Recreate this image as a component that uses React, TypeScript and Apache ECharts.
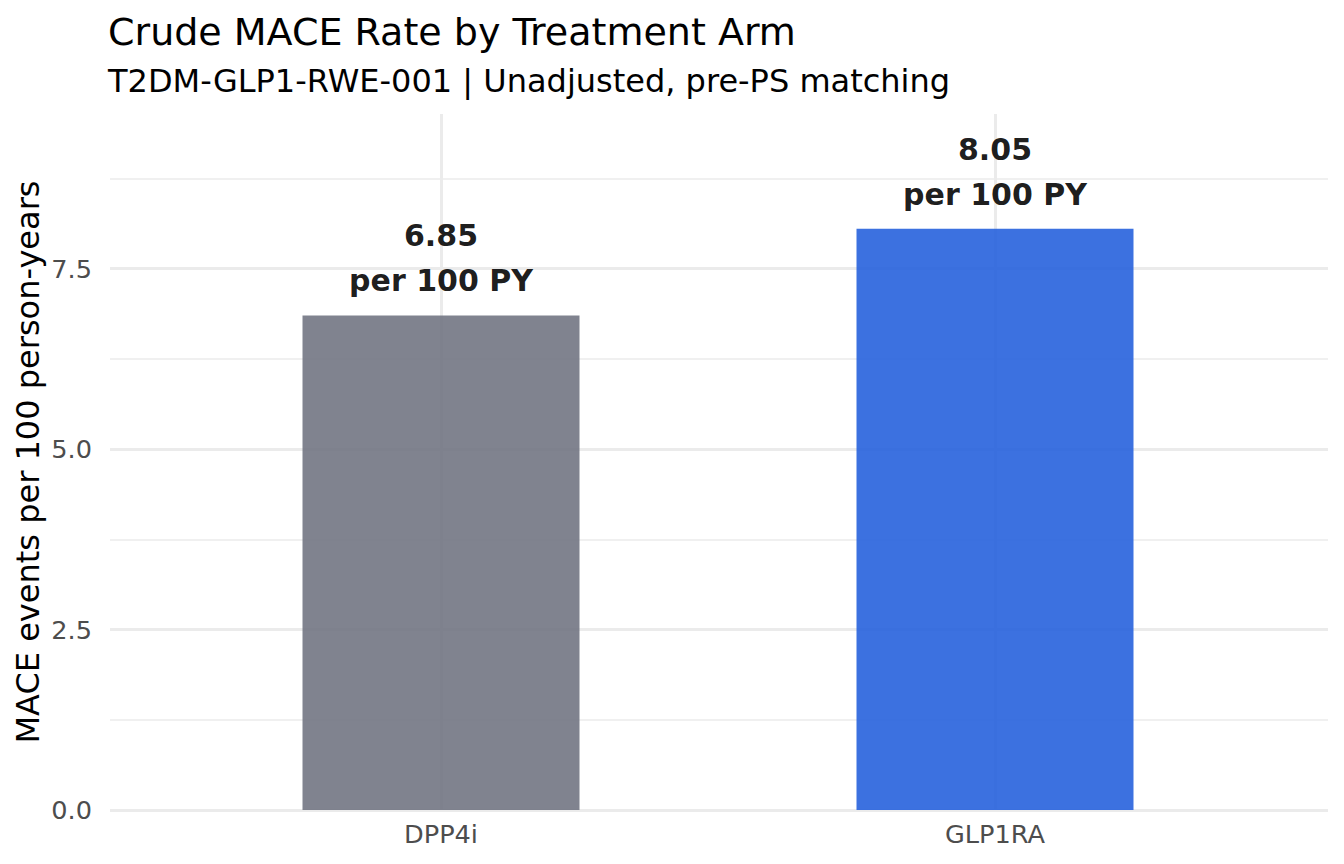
import React, { useEffect, useRef } from "react";
import * as echarts from "echarts";

const arms: string[] = ["DPP4i", "GLP1RA"];
const rates: number[] = [6.85, 8.05];
const armColors: string[] = ["rgb(114,117,131)", "rgb(39,98,221)"];
const titleText = "Crude MACE Rate by Treatment Arm";
const subtitleText = "T2DM-GLP1-RWE-001 | Unadjusted, pre-PS matching";
const yAxisTitle = "MACE events per 100 person-years";
const unitSuffix = "per 100 PY";
const yMin = 0;
const yMax = 9.64;
const yMajorStep = 2.5;
const yMinorStep = 1.25;

const FONT = "DejaVu Sans";

export default function App() {
  const ref = useRef<HTMLDivElement>(null);

  useEffect(() => {
    if (!ref.current) return;
    const chart = echarts.init(ref.current, null, { renderer: "svg" });
    const grid0 = { left: 110, right: 16, top: 114, bottom: 54 };
    const grid1 = { left: 164, right: 72, top: 114, bottom: 54 };
    chart.setOption({
      animation: false,
      backgroundColor: "#ffffff",
      title: {
        text: titleText,
        subtext: subtitleText,
        left: 108,
        top: 13,
        padding: 0,
        itemGap: 14,
        textStyle: {
          fontFamily: FONT,
          fontSize: 38,
          fontWeight: "normal",
          color: "#000000",
          lineHeight: 38,
        },
        subtextStyle: {
          fontFamily: FONT,
          fontSize: 32,
          color: "#000000",
          lineHeight: 32,
        },
      },
      grid: [
        { ...grid0, containLabel: false },
        { ...grid1, containLabel: false },
      ],
      xAxis: [
        {
          type: "category",
          gridIndex: 0,
          data: arms,
          show: false,
        },
        {
          type: "category",
          gridIndex: 1,
          data: arms,
          axisLine: { show: false },
          axisTick: { show: false },
          splitLine: { show: false },
          axisLabel: {
            fontFamily: FONT,
            fontSize: 25.6,
            color: "#4D4D4D",
            margin: 11,
            lineHeight: 26,
          },
        },
      ],
      yAxis: [
        {
          type: "value",
          gridIndex: 0,
          min: yMin,
          max: yMax,
          interval: yMajorStep,
          position: "left",
          name: yAxisTitle,
          nameLocation: "middle",
          nameGap: 66,
          nameMoveOverlap: false,
          nameRotate: 90,
          nameTextStyle: {
            fontFamily: FONT,
            fontSize: 32,
            color: "#000000",
            lineHeight: 32,
          },
          axisLine: { show: false },
          axisTick: { show: false },
          axisLabel: {
            fontFamily: FONT,
            fontSize: 25.6,
            color: "#4D4D4D",
            margin: 18,
            showMaxLabel: false,
            formatter: (v: number) => v.toFixed(1),
          },
          splitLine: {
            show: true,
            showMaxLine: false,
            lineStyle: { color: "#EBEBEB", width: 3 },
          },
          z: 1,
        },
        {
          type: "value",
          gridIndex: 0,
          min: yMin,
          max: yMax,
          interval: yMinorStep,
          position: "right",
          axisLine: { show: false },
          axisTick: { show: false },
          axisLabel: { show: false },
          splitLine: {
            show: true,
            showMaxLine: false,
            lineStyle: { color: "#EBEBEB", width: 1.5 },
          },
          z: 0,
        },
        {
          type: "value",
          gridIndex: 1,
          min: yMin,
          max: yMax,
          show: false,
        },
      ],
      series: [
        {
          type: "bar",
          xAxisIndex: 1,
          yAxisIndex: 2,
          barWidth: "50%",
          z: 2,
          data: rates.map((v, i) => ({
            value: v,
            itemStyle: { color: armColors[i], opacity: 0.9 },
          })),
          label: {
            show: true,
            position: "top",
            distance: 12,
            fontFamily: FONT,
            fontSize: 30,
            fontWeight: "bold",
            color: "#000000",
            lineHeight: 45,
            formatter: (p: any) => `${Number(p.value).toFixed(2)}\n${unitSuffix}`,
          },
          markLine: {
            silent: true,
            z: 1,
            symbol: ["none", "none"],
            label: { show: false },
            lineStyle: { color: "#EBEBEB", width: 3, type: "solid" },
            data: arms.map((a) => ({ xAxis: a })),
          },
        },
      ],
    });
    return () => chart.dispose();
  }, []);

  return (
    <div
      ref={ref}
      style={{ position: "absolute", left: 0, top: 0, width: 1344, height: 864 }}
    />
  );
}
